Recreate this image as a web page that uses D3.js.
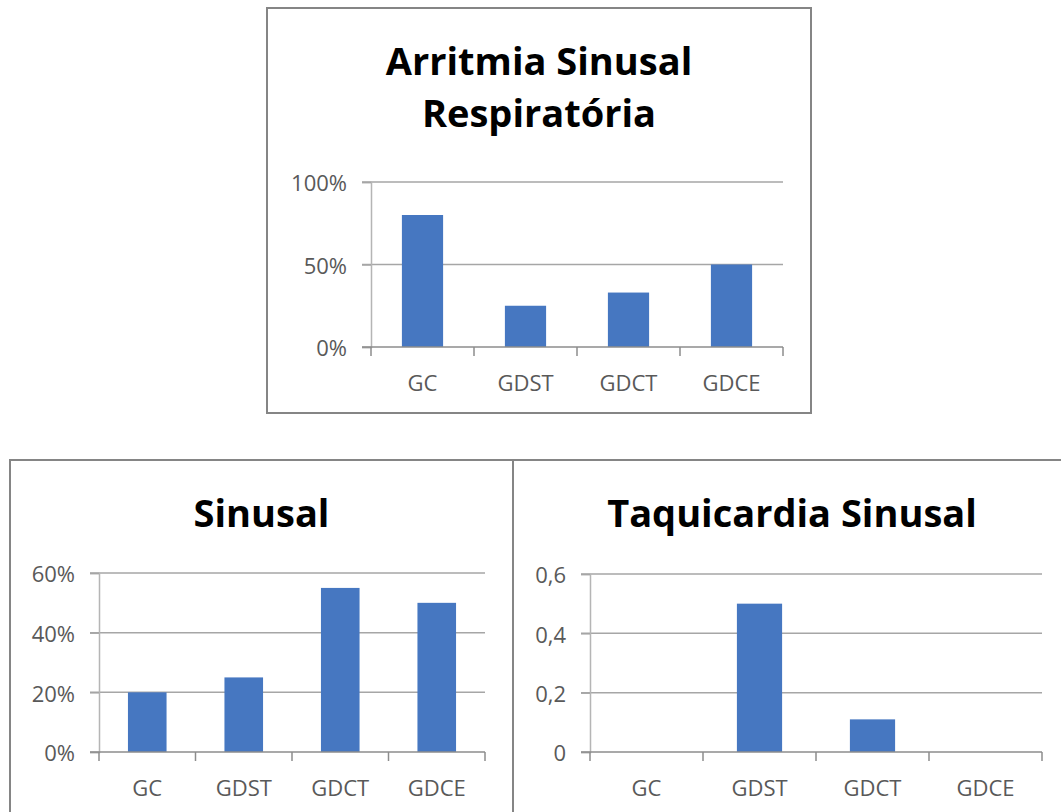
<!DOCTYPE html>
<html><head><meta charset="utf-8">
<script src="https://cdn.jsdelivr.net/npm/d3@7"></script>
<style>body{margin:0;background:#fff}</style>
</head><body>
<svg id="chart" width="1061" height="812"></svg>
<script>
const categories = ["GC", "GDST", "GDCT", "GDCE"];
const arritmiaValues = [0.80, 0.25, 0.33, 0.50];
const sinusalValues = [0.20, 0.25, 0.55, 0.50];
const taquicardiaValues = [0, 0.50, 0.11, 0];
const arritmiaTicks = [0, 0.5, 1];
const sinusalTicks = [0, 0.2, 0.4, 0.6];
const taquicardiaTicks = [0, 0.2, 0.4, 0.6];
const arritmiaTitle = ["Arritmia Sinusal", "Respiratória"];
const sinusalTitle = ["Sinusal"];
const taquicardiaTitle = ["Taquicardia Sinusal"];

const ptBR = d3.formatLocale({decimal: ",", thousands: ".", grouping: [3], currency: ["R$", ""]});
const fmtPct = ptBR.format(".0%");
const fmtDec = ptBR.format("~g");

const FONT = "'Open Sans', sans-serif";
const BAR = "#4677c1";
const svg = d3.select("#chart");

function panel(o) {
  const g = svg.append("g");
  g.append("rect")
    .attr("x", o.box[0]).attr("y", o.box[1])
    .attr("width", o.box[2] - o.box[0]).attr("height", o.box[3] - o.box[1])
    .attr("fill", "#fff").attr("stroke", "#858585").attr("stroke-width", 2);

  o.title.forEach((t, i) => {
    g.append("text")
      .attr("x", (o.box[0] + o.box[2]) / 2).attr("y", o.titleY + i * 52)
      .attr("text-anchor", "middle")
      .attr("font-family", FONT).attr("font-weight", 700).attr("font-size", 38)
      .attr("fill", "#000").text(t);
  });

  const {left, right, top, bottom} = o.plot;
  const x = d3.scaleBand().domain(categories).range([left, right])
    .paddingInner(0.6).paddingOuter(0.3);
  const y = d3.scaleLinear().domain([0, o.yMax]).range([bottom, top]);

  // horizontal gridlines, extending past the value axis as tick marks
  g.append("g").selectAll("line").data(o.ticks.filter(d => d > 0)).join("line")
    .attr("x1", left - 9).attr("x2", right)
    .attr("y1", d => y(d)).attr("y2", d => y(d))
    .attr("stroke", "#a6a6a6").attr("stroke-width", 1.5);

  // value axis
  const ya = g.append("g").attr("transform", `translate(${left},0)`)
    .call(d3.axisLeft(y).tickValues(o.ticks).tickFormat(o.format).tickSize(9).tickPadding(15));
  ya.select(".domain").attr("stroke", "#b5b5b5").attr("stroke-width", 1.5);
  ya.selectAll(".tick line").attr("stroke", "#a6a6a6").attr("stroke-width", 1.5);
  ya.selectAll("text").attr("font-family", FONT).attr("font-size", 22)
    .attr("fill", "#595959").attr("dy", "0.4em");

  // bars
  g.append("g").selectAll("rect").data(categories).join("rect")
    .attr("x", d => x(d)).attr("width", x.bandwidth())
    .attr("y", (d, i) => y(o.values[i]))
    .attr("height", (d, i) => y(0) - y(o.values[i]))
    .attr("fill", BAR);

  // category axis with tick marks at the category boundaries
  const xa = g.append("g").attr("transform", `translate(0,${bottom})`)
    .call(d3.axisBottom(x).tickSize(0));
  xa.select(".domain").remove();
  xa.selectAll("text").attr("font-family", FONT).attr("font-size", 22)
    .attr("fill", "#595959").attr("dy", null).attr("y", 44);
  const bounds = categories.map(c => x(c) - x.step() * x.paddingOuter()).concat([right]);
  xa.append("g").selectAll("line").data(bounds).join("line")
    .attr("x1", d => d).attr("x2", d => d).attr("y1", 0).attr("y2", 9)
    .attr("stroke", "#8c8c8c").attr("stroke-width", 1.5);
  xa.append("line").attr("x1", left - 9).attr("x2", right).attr("y1", 0).attr("y2", 0)
    .attr("stroke", "#8c8c8c").attr("stroke-width", 1.5);
}

panel({box: [267, 8, 811, 413], title: arritmiaTitle, titleY: 75,
  plot: {left: 371, right: 783, top: 182, bottom: 347}, yMax: 1,
  ticks: arritmiaTicks, format: fmtPct, values: arritmiaValues});
panel({box: [10, 460, 513, 840], title: sinusalTitle, titleY: 527,
  plot: {left: 99, right: 485, top: 573, bottom: 752}, yMax: 0.6,
  ticks: sinusalTicks, format: fmtPct, values: sinusalValues});
panel({box: [513, 460, 1071, 840], title: taquicardiaTitle, titleY: 527,
  plot: {left: 590, right: 1042, top: 574, bottom: 752}, yMax: 0.6,
  ticks: taquicardiaTicks, format: fmtDec, values: taquicardiaValues});
</script>
</body></html>
